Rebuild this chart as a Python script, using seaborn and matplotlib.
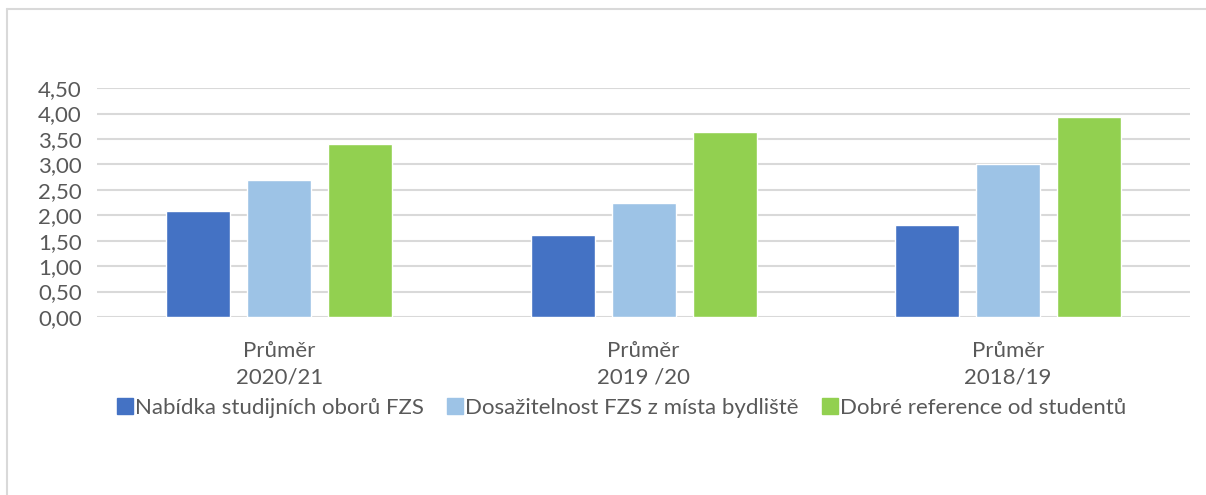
import pandas as pd
import matplotlib.pyplot as plt
import seaborn as sns
from matplotlib.lines import Line2D
from matplotlib.ticker import FuncFormatter

# Data
years = ['Průměr\n2020/21', 'Průměr\n2019 /20', 'Průměr\n2018/19']
series = ['Nabídka studijních oborů FZS',
          'Dosažitelnost FZS z místa bydliště',
          'Dobré reference od studentů']
nabidka = [2.09, 1.62, 1.80]
dosazitelnost = [2.70, 2.24, 3.01]
reference = [3.41, 3.64, 3.94]
colors = ['#4472C4', '#9DC3E6', '#92D050']

rows = []
for name, vals in zip(series, [nabidka, dosazitelnost, reference]):
    for y, v in zip(years, vals):
        rows.append({'Rok': y, 'Hodnota': v, 'Kategorie': name})
df = pd.DataFrame(rows)

sns.set_theme(style="white")
plt.rcParams['font.family'] = ['Lato', 'DejaVu Sans']
text_color = '#595959'

fig = plt.figure(figsize=(12.06, 4.95), dpi=100)
ax = fig.add_axes([0.0804, 0.3596, 0.9066, 0.4624])

sns.barplot(data=df, x='Rok', y='Hodnota', hue='Kategorie', order=years,
            hue_order=series, palette=colors, width=0.6675, gap=0.21,
            saturation=1, ax=ax, legend=False)

ax.set_ylim(0, 4.5)
ax.set_xlim(-0.5, 2.5)
ax.set_yticks([i * 0.5 for i in range(10)])
ax.yaxis.set_major_formatter(FuncFormatter(lambda v, p: f'{v:.2f}'.replace('.', ',')))
ax.grid(axis='y', color='#d9d9d9', linewidth=1.5)
ax.set_axisbelow(True)
for s in ax.spines.values():
    s.set_visible(False)
ax.set_xlabel('')
ax.set_ylabel('')
ax.tick_params(axis='both', length=0, labelsize=16, colors=text_color)
ax.tick_params(axis='x', pad=17)
ax.tick_params(axis='y', pad=11)
for lbl in ax.get_xticklabels():
    lbl.set_linespacing(1.45)

handles = [Line2D([0], [0], marker='s', linestyle='', markersize=12,
                  markerfacecolor=c, markeredgecolor=c) for c in colors]
fig.legend(handles, series, loc='center', bbox_to_anchor=(0.515, 0.176),
           ncol=3, frameon=False, fontsize=16, handletextpad=0.05,
           columnspacing=1.0, labelcolor=text_color, handlelength=0.8)

# light outer frame of the chart area
fig.add_artist(Line2D([0.0055, 0.0055], [0, 0.982], color='#d9d9d9',
                      linewidth=1.5, transform=fig.transFigure))
fig.add_artist(Line2D([0.0055, 1], [0.982, 0.982], color='#d9d9d9',
                      linewidth=1.5, transform=fig.transFigure))

plt.savefig('out.png', dpi=100)
